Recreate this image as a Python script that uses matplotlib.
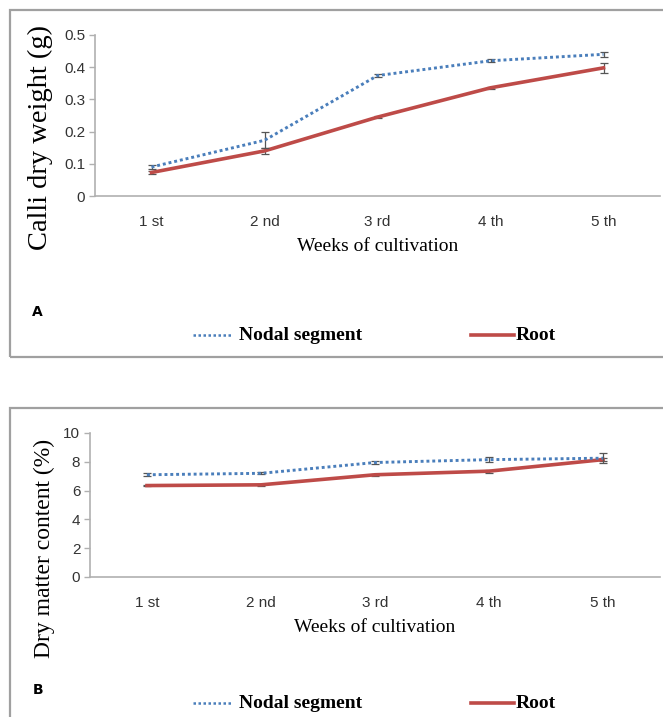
import matplotlib

matplotlib.use("Agg")
import matplotlib.pyplot as plt
from matplotlib.lines import Line2D
from matplotlib.patches import Rectangle
import numpy as np

WEEKS = ["1 st", "2 nd", "3 rd", "4 th", "5 th"]

# panel A: calli dry weight (g)
nodal_weight = [0.090, 0.173, 0.374, 0.420, 0.440]
nodal_weight_err = [0.005, 0.025, 0.004, 0.004, 0.008]
root_weight = [0.073, 0.140, 0.245, 0.336, 0.398]
root_weight_err = [0.004, 0.010, 0.003, 0.004, 0.016]

# panel B: dry matter content (%)
nodal_dm = [7.10, 7.20, 7.95, 8.15, 8.25]
nodal_dm_err = [0.10, 0.08, 0.12, 0.15, 0.35]
root_dm = [6.35, 6.40, 7.10, 7.35, 8.15]
root_dm_err = [0.06, 0.05, 0.06, 0.10, 0.08]

BLUE = "#4a7ebb"
RED = "#be4b48"
AXIS_GREY = "#b0b0b0"
BORDER_GREY = "#a0a0a0"
SERIF = ["Liberation Serif", "DejaVu Serif"]
NARROW = ["Liberation Sans Narrow", "Liberation Sans", "DejaVu Sans"]

W, H = 663, 717
fig = plt.figure(figsize=(W / 100, H / 100), dpi=100, facecolor="white")


def fx(px):
    return px / W


def fy(py):
    return 1 - py / H


# panel borders
fig.patches.append(Rectangle((fx(10), fy(357)), fx(700) - fx(10), fy(10) - fy(357),
                             transform=fig.transFigure, fill=False,
                             ec=BORDER_GREY, lw=1.6))
fig.patches.append(Rectangle((fx(10), fy(760)), fx(700) - fx(10), fy(408) - fy(760),
                             transform=fig.transFigure, fill=False,
                             ec=BORDER_GREY, lw=1.6))


def draw_panel(ax, nodal, nodal_err, root, root_err):
    x = np.arange(len(WEEKS))
    ax.errorbar(x, nodal, yerr=nodal_err, color=BLUE, ls=(0, (1, 1)), lw=2.1,
                ecolor="#555555", elinewidth=0.9, capsize=3, capthick=0.9, zorder=3)
    ax.errorbar(x, root, yerr=root_err, color=RED, lw=2.6,
                ecolor="#555555", elinewidth=0.9, capsize=3, capthick=0.9, zorder=2)
    ax.set_xlim(-0.5, len(WEEKS) - 0.5)
    ax.set_xticks(x)
    ax.set_xticklabels(WEEKS, family=NARROW, fontsize=11, color="#333333")
    ax.tick_params(axis="x", length=0, pad=14)
    ax.tick_params(axis="y", length=4, color=AXIS_GREY, width=1, pad=3,
                   labelsize=11, labelcolor="#333333")
    for lab in ax.get_yticklabels():
        lab.set_family(NARROW)
    for side in ("top", "right"):
        ax.spines[side].set_visible(False)
    for side in ("left", "bottom"):
        ax.spines[side].set_color(AXIS_GREY)
        ax.spines[side].set_linewidth(1.2)
    ax.set_xlabel("Weeks of cultivation", family=SERIF, fontsize=14, labelpad=6)


ax_a = fig.add_axes([fx(95), fy(196), fx(660) - fx(95), fy(35) - fy(196)])
ax_a.set_ylim(0, 0.5)
ax_a.set_yticks([0, 0.1, 0.2, 0.3, 0.4, 0.5])
ax_a.set_yticklabels(["0", "0.1", "0.2", "0.3", "0.4", "0.5"])
draw_panel(ax_a, nodal_weight, nodal_weight_err, root_weight, root_weight_err)
fig.text(fx(40), fy(137), "Calli dry weight (g)", rotation=90, ha="center", va="center",
         family=SERIF, fontsize=20.5)

ax_b = fig.add_axes([fx(90), fy(577), fx(660) - fx(90), fy(433) - fy(577)])
ax_b.set_ylim(0, 10)
ax_b.set_yticks([0, 2, 4, 6, 8, 10])
draw_panel(ax_b, nodal_dm, nodal_dm_err, root_dm, root_dm_err)
fig.text(fx(44), fy(548), "Dry matter content (%)", rotation=90, ha="center", va="center",
         family=SERIF, fontsize=17)

# panel letters
fig.text(fx(32), fy(312), "A", family=["DejaVu Sans"], fontweight="bold", fontsize=10,
         ha="left", va="center")
fig.text(fx(33), fy(690), "B", family=["DejaVu Sans"], fontweight="bold", fontsize=10,
         ha="left", va="center")


def legend_row(ypx):
    fig.add_artist(Line2D([fx(193), fx(232)], [fy(ypx), fy(ypx)], color=BLUE,
                          ls=(0, (1, 1)), lw=1.8, transform=fig.transFigure))
    fig.text(fx(239), fy(ypx), "Nodal segment", family=SERIF, fontweight="bold",
             fontsize=14, ha="left", va="center")
    fig.add_artist(Line2D([fx(471), fx(514)], [fy(ypx), fy(ypx)], color=RED,
                          lw=2.6, transform=fig.transFigure))
    fig.text(fx(516), fy(ypx), "Root", family=SERIF, fontweight="bold",
             fontsize=14, ha="left", va="center")


legend_row(335)
legend_row(703)

fig.savefig("out.png", dpi=100)
